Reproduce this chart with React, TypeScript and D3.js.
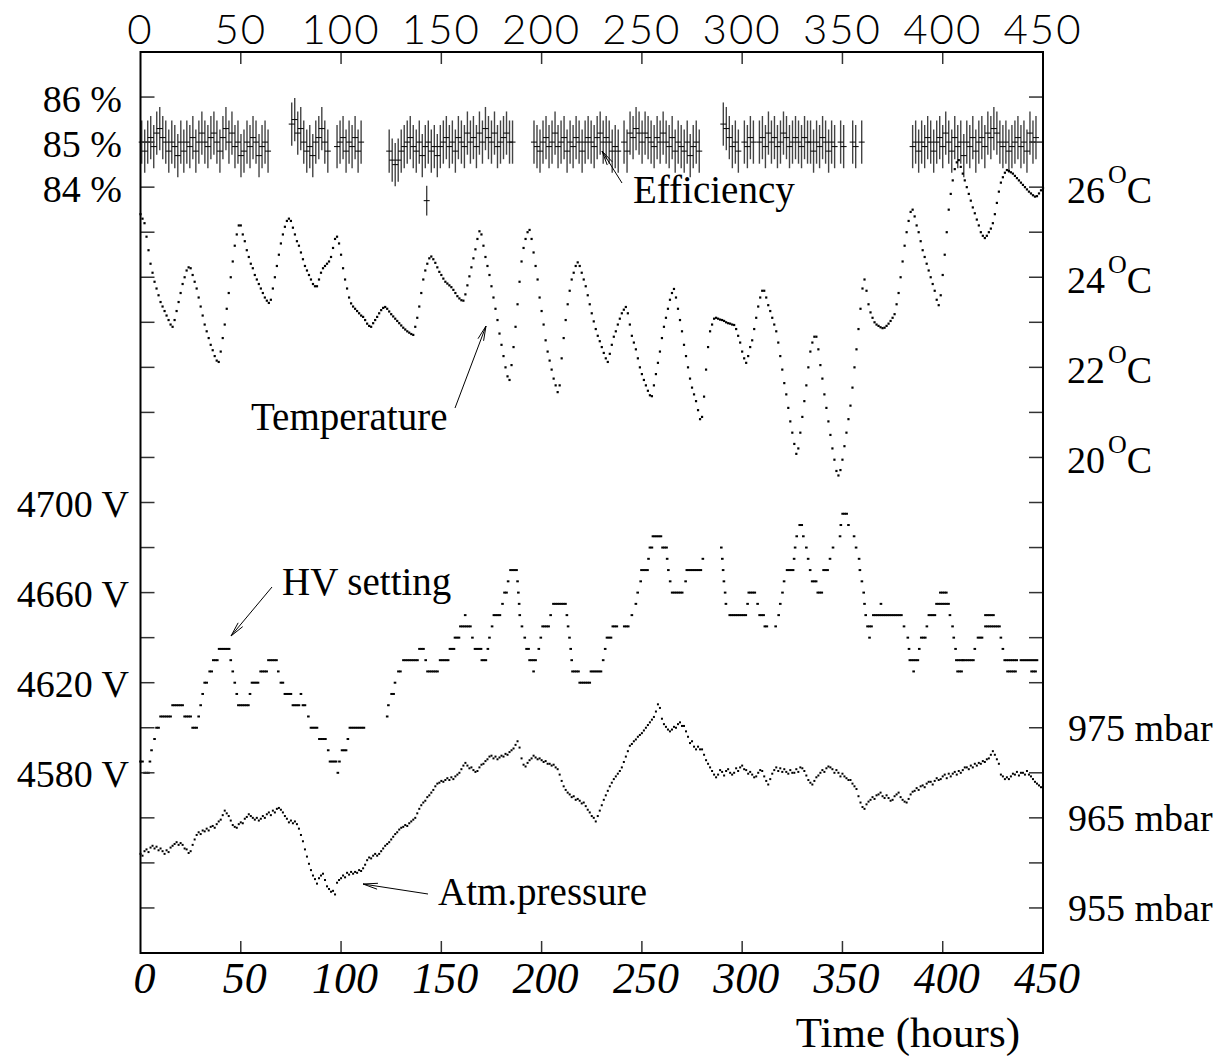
import React from 'react';
import * as d3 from 'd3';

// ---------- axis ticks / labels ----------
const timeTicks = [0, 50, 100, 150, 200, 250, 300, 350, 400, 450];
const effTicks = [86, 85, 84];
const tempTicks = [26, 24, 22, 20];
const hvTicks = [4700, 4660, 4620, 4580];
const pressTicks = [975, 965, 955];

// ---------- temperature (deg C), hourly from t = 0 h ----------
const temperature = [
  25.4, 25.3, 25.2, 24.9, 24.6, 24.3, 24.1, 23.9, 23.75, 23.6,
  23.45, 23.35, 23.25, 23.15, 23.05, 22.95, 22.9, 23.05, 23.25, 23.45,
  23.65, 23.85, 24.0, 24.15, 24.22, 24.2, 24.05, 23.9, 23.75, 23.55,
  23.35, 23.15, 22.95, 22.8, 22.65, 22.5, 22.38, 22.25, 22.15, 22.12,
  22.35, 22.65, 22.95, 23.3, 23.65, 24.0, 24.35, 24.7, 24.95, 25.15,
  25.15, 24.95, 24.8, 24.6, 24.45, 24.3, 24.2, 24.05, 23.95, 23.85,
  23.75, 23.65, 23.55, 23.48, 23.43, 23.5, 23.75, 24.0, 24.25, 24.5,
  24.75, 24.95, 25.12, 25.25, 25.3, 25.25, 25.1, 24.95, 24.8, 24.7,
  24.55, 24.4, 24.25, 24.15, 24.05, 23.95, 23.85, 23.8, 23.8, 23.95,
  24.1, 24.2, 24.25, 24.3, 24.35, 24.45, 24.65, 24.85, 24.9, 24.75,
  24.5, 24.2, 23.95, 23.75, 23.55, 23.42, 23.35, 23.3, 23.25, 23.2,
  23.15, 23.12, 23.05, 22.97, 22.92, 22.9, 22.98, 23.05, 23.12, 23.2,
  23.27, 23.32, 23.34, 23.3, 23.24, 23.18, 23.13, 23.08, 23.03, 22.98,
  22.93, 22.88, 22.84, 22.8, 22.77, 22.74, 22.72, 22.9, 23.1, 23.35,
  23.65, 23.95, 24.15, 24.3, 24.42, 24.46, 24.4, 24.32, 24.22, 24.12,
  24.05, 23.97, 23.9, 23.86, 23.82, 23.78, 23.72, 23.65, 23.58, 23.53,
  23.49, 23.48, 23.62, 23.82, 24.02, 24.22, 24.42, 24.62, 24.85, 25.02,
  24.95, 24.7, 24.45, 24.25, 24.05, 23.8, 23.55, 23.3, 23.05, 22.75,
  22.5, 22.25, 22.0, 21.8, 21.72, 22.05, 22.45, 22.9, 23.4, 23.9,
  24.35, 24.65, 24.85, 25.0, 25.05, 24.85, 24.55, 24.25, 23.95, 23.55,
  23.25, 22.95, 22.6, 22.35, 22.15, 21.95, 21.75, 21.6, 21.45, 21.6,
  22.2, 22.65, 23.05, 23.4, 23.7, 23.95, 24.1, 24.25, 24.33, 24.25,
  24.1, 23.95, 23.8, 23.6, 23.4, 23.2, 23.02, 22.85, 22.7, 22.58,
  22.45, 22.32, 22.2, 22.12, 22.3, 22.5, 22.68, 22.8, 22.95, 23.08,
  23.2, 23.28, 23.34, 23.2, 22.95, 22.7, 22.55, 22.4, 22.2, 22.0,
  21.85, 21.72, 21.6, 21.48, 21.38, 21.36, 21.6, 21.85, 22.1, 22.35,
  22.65, 22.9, 23.1, 23.3, 23.5, 23.65, 23.74, 23.55, 23.3, 23.05,
  22.8, 22.5, 22.25, 22.0, 21.75, 21.55, 21.4, 21.25, 21.05, 20.85,
  20.9, 21.35, 21.95, 22.45, 22.8, 22.95, 23.08, 23.1, 23.08, 23.06,
  23.05, 23.03, 23.0, 22.98, 22.97, 22.95, 22.94, 22.85, 22.7, 22.55,
  22.35, 22.2, 22.1, 22.25, 22.45, 22.6, 22.85, 23.1, 23.35, 23.55,
  23.7, 23.7, 23.55, 23.38, 23.25, 23.1, 22.95, 22.8, 22.55, 22.25,
  21.95, 21.65, 21.4, 21.1, 20.8, 20.55, 20.3, 20.08, 20.2, 20.55,
  20.9, 21.25, 21.6, 22.0, 22.35, 22.55, 22.68, 22.68, 22.4, 22.05,
  21.75, 21.4, 21.1, 20.8, 20.5, 20.2, 19.95, 19.7, 19.6, 19.72,
  19.95, 20.25, 20.55, 20.85, 21.15, 21.55, 22.0, 22.4, 22.85, 23.3,
  23.75, 23.95, 23.7, 23.4, 23.22, 23.1, 23.0, 22.95, 22.92, 22.89,
  22.87, 22.88, 22.92, 22.97, 23.03, 23.1, 23.18, 23.4, 23.65, 24.0,
  24.35, 24.7, 25.0, 25.25, 25.45, 25.5, 25.35, 25.15, 25.0, 24.8,
  24.6, 24.45, 24.3, 24.15, 24.0, 23.85, 23.7, 23.5, 23.38, 23.6,
  24.05, 24.5, 25.0, 25.5, 25.85, 26.15, 26.4, 26.55, 26.6, 26.45,
  26.3, 26.15, 26.0, 25.85, 25.7, 25.55, 25.42, 25.28, 25.15, 25.0,
  24.92, 24.87, 24.92, 25.0, 25.08, 25.2, 25.4, 25.65, 25.9, 26.1,
  26.22, 26.32, 26.38, 26.36, 26.33, 26.3, 26.25, 26.2, 26.15, 26.1,
  26.05, 26.0, 25.95, 25.9, 25.86, 25.82, 25.79, 25.8, 25.86, 25.93,
  25.98,
];

// ---------- atmospheric pressure (mbar), hourly from t = 0 h ----------
const pressure = [
  961.0, 960.8, 961.3, 961.5, 961.2, 961.7, 961.9, 961.6, 961.8, 961.4,
  961.6, 961.3, 961.0, 961.4, 961.2, 961.7, 961.9, 962.1, 962.3, 962.0,
  962.2, 962.0, 961.6, 961.5, 961.1, 961.3, 962.0, 962.6, 963.1, 963.4,
  963.2, 963.6, 963.5, 963.8, 963.6, 964.0, 964.1, 963.9, 964.3, 964.6,
  964.8, 965.3, 965.8, 965.5, 965.2, 964.7, 964.2, 964.0, 963.9, 964.3,
  964.5, 964.4, 964.9, 965.1, 965.4, 965.2, 965.0, 964.8, 965.0, 964.7,
  964.9, 965.2, 965.0, 965.4, 965.6, 965.3, 965.8, 965.6, 966.0, 966.1,
  965.9, 965.6, 965.2, 964.9, 964.5, 964.7, 964.4, 964.6, 964.3, 963.8,
  963.1, 962.4, 961.5, 960.7, 959.9, 959.2, 958.6, 958.2, 957.7, 958.3,
  958.6, 958.8, 958.1, 957.4, 957.1, 956.8, 956.9, 956.5, 957.8, 958.1,
  958.3, 958.6, 958.4, 958.9, 958.7, 959.0, 958.8, 959.0, 958.9, 959.2,
  959.1, 959.4, 959.8, 960.3, 960.6, 960.5, 960.8, 961.0, 960.8, 961.0,
  961.3, 961.6, 961.9, 962.1, 962.3, 962.6, 962.9, 963.2, 963.4, 963.7,
  963.9, 964.0, 964.2, 964.1, 964.4, 964.6, 964.8, 965.0, 965.5, 966.0,
  966.4, 966.7, 966.9, 967.3, 967.5, 967.8, 968.1, 968.5, 968.8, 968.9,
  969.1, 969.0, 969.2, 969.4, 969.2, 969.5, 969.3, 969.6, 969.8, 970.0,
  970.4, 970.8, 971.1, 970.8, 970.5, 970.6, 970.3, 970.1, 970.2, 970.6,
  970.9, 971.0, 971.3, 971.5, 971.8, 971.9, 971.6, 971.8, 971.5, 971.7,
  971.9, 971.8, 972.1, 972.0, 972.3, 972.5, 972.7, 973.1, 973.5, 972.8,
  971.6, 970.9, 970.7, 971.1, 971.4, 971.6, 971.9, 971.7, 971.5, 971.6,
  971.4, 971.2, 971.3, 971.0, 971.0, 970.8, 970.9, 970.6, 970.4, 969.8,
  969.1, 968.5, 968.1, 967.8, 967.6, 967.3, 967.4, 967.0, 967.1, 966.9,
  966.6, 966.7, 966.3, 965.9, 965.6, 965.2, 965.0, 964.6, 965.2, 965.8,
  966.4, 967.0, 967.5, 968.0, 968.5, 968.9, 969.3, 969.6, 969.9, 970.2,
  970.6, 971.2, 971.8, 972.4, 973.0, 973.2, 973.5, 973.7, 974.0, 974.2,
  974.4, 974.7, 975.0, 975.3, 975.6, 975.9, 976.2, 976.8, 977.6, 977.2,
  976.0, 975.4, 975.1, 974.8, 974.6, 974.8, 975.1, 975.0, 975.4, 975.6,
  975.2, 975.2, 974.6, 974.0, 973.3, 973.5, 972.9, 972.6, 972.9, 972.6,
  972.6, 972.0, 971.4, 971.0, 970.6, 970.2, 969.8, 969.5, 969.8, 970.3,
  970.1, 969.7, 970.2, 970.4, 970.0, 969.8, 970.0, 970.5, 970.2, 970.6,
  970.8, 970.4, 970.3, 969.9, 970.1, 969.8, 969.5, 969.6, 970.0, 970.3,
  970.2, 969.6, 969.1, 968.7, 969.3, 969.9, 970.3, 970.6, 970.2, 970.5,
  970.1, 970.4, 970.1, 969.9, 970.3, 970.0, 970.0, 970.4, 970.1, 970.6,
  970.5, 970.2, 969.7, 969.2, 968.9, 968.7, 969.1, 969.5, 969.7, 970.0,
  970.3, 970.1, 970.5, 970.7, 970.6, 970.4, 970.0, 970.3, 970.0, 969.6,
  969.9, 969.6, 969.4, 969.2, 969.2, 968.8, 968.5, 968.2, 967.4, 966.7,
  966.2, 966.0, 966.5, 966.8, 967.0, 967.3, 967.1, 967.5, 967.6, 967.8,
  967.4, 967.2, 967.5, 967.2, 966.9, 967.0, 967.4, 967.6, 967.8, 967.3,
  967.0, 966.8, 966.7, 967.1, 967.6, 967.9, 968.0, 968.3, 968.1, 968.5,
  968.6, 968.4, 968.8, 969.0, 969.0, 968.7, 969.1, 969.4, 969.2, 969.3,
  969.6, 969.8, 969.4, 969.9, 969.6, 969.9, 970.1, 969.8, 970.2, 970.0,
  970.3, 970.6, 970.6, 970.4, 970.8, 970.6, 971.0, 970.8, 971.1, 971.0,
  971.3, 971.2, 971.5, 971.6, 972.0, 972.4, 972.0, 971.5, 971.0, 969.8,
  969.6, 969.3, 969.5, 969.3, 969.6, 969.9, 969.8, 970.1, 969.7, 970.0,
  970.0, 969.8, 970.2, 969.8, 969.6, 969.3, 969.0, 968.8, 968.6, 968.4,
  968.6,
];

// ---------- HV setting (V): steps [from h, to h, volts], one reading per hour ----------
const hvSteps: [number, number, number][] = [
  [0, 1, 4585], [2, 4, 4580], [4.7, 4.7, 4585], [5.5, 6, 4590], [7, 7, 4595], [8, 9, 4600],
  [10, 15, 4605], [16, 21, 4610], [22, 25, 4605], [26, 28, 4600], [29, 29, 4605], [30, 30, 4610],
  [31, 31, 4615], [32, 33, 4620], [34.5, 35.5, 4625], [36.3, 38.3, 4630], [39.2, 44.6, 4635],
  [45, 45, 4630], [46, 46, 4625], [47, 47, 4620], [48, 48, 4615], [48.8, 53.8, 4610],
  [54.6, 54.6, 4615], [55.6, 58.8, 4620], [59.9, 62.9, 4625], [63.8, 67.9, 4630], [68.7, 68.7, 4625],
  [70, 71.2, 4620], [72, 75.4, 4615], [76, 79, 4610], [80, 80, 4615], [81, 82.8, 4610],
  [83.7, 83.7, 4605], [85, 88.7, 4600], [89.2, 92.6, 4595], [93.6, 93.6, 4590], [94.5, 96.5, 4585],
  [97.5, 97.5, 4585], [98.4, 98.4, 4580], [99.2, 100, 4585], [100.5, 102.8, 4590], [103.4, 103.4, 4595],
  [104.4, 112, 4600],
  [123, 123, 4605], [123.6, 123.6, 4610], [125.2, 126.2, 4615], [126.9, 126.9, 4620], [128.6, 130.2, 4625],
  [131.1, 138.1, 4630], [139.1, 141.1, 4635], [142.2, 142.2, 4630], [143.1, 148.1, 4625], [149.4, 153.4, 4630],
  [154.3, 156.3, 4635], [156.8, 158.8, 4640], [159.5, 164.5, 4645], [161.9, 161.9, 4650], [165.5, 165.5, 4640],
  [166.8, 169.8, 4635], [170.2, 172.2, 4630], [173.2, 173.2, 4635], [174, 174, 4640], [175.3, 175.3, 4645],
  [176.2, 179.2, 4650], [180.5, 180.5, 4655], [181.5, 182.5, 4660], [183.3, 183.3, 4665], [184.5, 187.5, 4670],
  [188, 188, 4665], [188.4, 188.4, 4660], [188.8, 188.8, 4655], [189.1, 189.1, 4650], [190.2, 190.2, 4645],
  [191.6, 191.6, 4640], [192.5, 193.5, 4635], [194, 197.9, 4630], [196, 196, 4625], [198.6, 198.6, 4635],
  [199.6, 199.6, 4640], [200.5, 203.5, 4645], [204.5, 204.5, 4650], [205.9, 211.9, 4655], [212.6, 212.6, 4650],
  [213.2, 213.2, 4645], [213.9, 213.9, 4640], [214.5, 214.5, 4635], [215, 215, 4630], [215.4, 218.4, 4625],
  [219, 224, 4620], [224.6, 229.6, 4625], [230.7, 230.7, 4630], [231.7, 231.7, 4635], [232.6, 234.6, 4640],
  [235.5, 237.5, 4645], [241.2, 243.2, 4645], [245, 245, 4650], [247, 247, 4655], [247.9, 247.9, 4660],
  [249.4, 249.4, 4665], [249.8, 252.8, 4670], [253.3, 253.3, 4675], [254, 255, 4680], [255.5, 259.5, 4685],
  [260.3, 262.3, 4680], [262.6, 262.6, 4675], [263.2, 263.2, 4670], [264.1, 264.1, 4665], [265.1, 270.1, 4660],
  [271.8, 271.8, 4665], [272.4, 279.4, 4670], [280.4, 280.4, 4675],
  [289.6, 289.6, 4680], [290.1, 290.1, 4675], [290.5, 290.5, 4670], [290.9, 290.9, 4665], [291.5, 291.5, 4660],
  [291.9, 291.9, 4655], [293.8, 301.8, 4650], [302.7, 302.7, 4655], [303.3, 306.3, 4660], [307.7, 307.7, 4655],
  [308.7, 310.7, 4650], [311.3, 312.3, 4645], [316.7, 316.7, 4645], [318.2, 318.2, 4650], [319, 319, 4655],
  [320.1, 320.1, 4660], [320.9, 320.9, 4665], [322.4, 325.4, 4670], [325.9, 325.9, 4675], [326.4, 326.4, 4680],
  [327.2, 327.2, 4685], [328.7, 329.7, 4690], [330.5, 330.5, 4685], [332, 332, 4680], [332.9, 332.9, 4675],
  [333.9, 333.9, 4670], [334.9, 336.9, 4665], [337.7, 339.7, 4660], [340.6, 342.6, 4670], [343.8, 343.8, 4675],
  [345.3, 345.3, 4680], [348.8, 348.8, 4685], [349.2, 349.2, 4690], [350.1, 352.1, 4695], [353, 353, 4690],
  [355.8, 355.8, 4685], [356.8, 356.8, 4680], [358.3, 358.3, 4675], [358.7, 358.7, 4670], [359.7, 359.7, 4665],
  [360.6, 360.6, 4660], [361, 361, 4655], [361.6, 361.6, 4650], [362.5, 364.5, 4645], [363.5, 363.5, 4640],
  [365.4, 379.4, 4650], [369.2, 369.2, 4655], [380.7, 380.7, 4645], [382.6, 382.6, 4640], [383.2, 383.2, 4635],
  [383.6, 387.6, 4630], [385.5, 385.5, 4625], [388.3, 388.3, 4635], [389.3, 391.3, 4640], [392.1, 392.1, 4645],
  [393.1, 396.1, 4650], [396.9, 402.9, 4655], [398.8, 401.8, 4660], [403.6, 403.6, 4650], [404.9, 404.9, 4645],
  [405.5, 405.5, 4640], [406.4, 406.4, 4635], [406.8, 409.8, 4630], [407.4, 409.4, 4625], [410.3, 415.3, 4630],
  [416, 416, 4635], [417.6, 419.6, 4640], [421.3, 428.3, 4645], [421.3, 425.3, 4650], [429, 429, 4640],
  [430, 430, 4635], [430.9, 436.9, 4630], [432.3, 436.3, 4625], [439, 447, 4630], [444.3, 446.3, 4625],
];

// ---------- efficiency (%): run start times (h), readings every 1.5 h, null = missing ----------
const effStep = 1.5;
const effError = 0.48;
const effStarts = [0.6, 75.4, 98, 124, 196.2, 241.1, 290.6, 385];
const effValues: (number | null)[][] = [
  [85.0, 84.8, 85.0, 85.1, 84.9, 85.2, 85.3, 85.1, 85.0, 84.8, 85.0, 84.9, 84.7, 85.0, 84.8, 85.0, 84.9, 85.1, 84.8, 85.0, 85.2, 85.0, 84.9, 85.1, 85.2, 85.0, 84.8, 85.1, 85.3, 85.0, 85.2, 84.9, 85.0, 84.7, 84.8, 85.0, 84.9, 85.1, 85.0, 84.7, 84.9, 85.0, 84.8],
  [85.4, 85.5, 85.2, 85.3, 85.0, 84.8, 84.9, 84.7, 85.0, 85.1, 85.3, 85.0, 84.8],
  [84.9, 85.0, 85.1, 84.8, 85.0, 84.9, 85.1, 84.8, 85.0],
  [84.8, 84.6, 84.5, 84.6, 84.8, 84.9, 85.0, 85.1, 84.9, 84.8, 85.0, 84.7, 84.9, 85.0, 84.8, 84.9, 84.7, 84.9, 85.0, 85.1, 84.9, 85.0, 84.8, 85.1, 85.0, 84.9, 85.2, 85.0, 85.1, 84.9, 85.2, 85.0, 85.3, 85.1, 85.0, 85.2, 84.9, 85.0, 85.1, 85.2, 85.0, 85.0],
  [85.0, 84.9, 84.8, 85.0, 85.1, 84.9, 85.0, 85.2, 84.9, 85.0, 85.1, 84.8, 85.0, 84.9, 85.1, 85.0, 84.8, 85.0, 85.1, 85.0, 84.9, 85.1, 85.2, 85.0, 85.1, 85.0, 84.8, 84.9, 84.8],
  [85.0, 84.8, 85.2, 85.1, 85.3, 85.2, 85.0, 85.2, 85.1, 85.0, 84.9, 85.1, 85.0, 85.2, 85.0, 84.9, 85.1, 84.8, 85.0, 84.9, 84.8, 85.0, 84.7, 84.9, 85.0, 84.8],
  [85.4, 85.3, 85.1, 84.9, 85.0, 84.8, null, 85.0, 84.9, 85.1, 85.0, null, 85.0, 85.1, 84.9, 85.2, 85.0, 85.1, 84.9, 85.0, 85.2, 85.1, 84.9, 85.0, 85.1, 85.0, 84.9, 85.1, 85.0, 85.0, 84.8, 85.0, 84.9, 85.1, 85.0, 84.8, 85.0, 84.9, null, 85.0, 84.9, null, null, 85.0, 84.9, null, 85.0],
  [84.9, 85.0, 84.8, 85.0, 84.9, 85.1, 85.0, 84.8, 85.0, 85.1, 84.9, 85.2, 85.0, 84.8, 85.1, 84.9, 85.0, 84.7, 85.0, 84.9, 85.1, 84.8, 85.0, 85.1, 84.9, 85.2, 85.1, 85.3, 85.2, 85.0, 84.9, 85.0, 84.8, 84.9, 85.0, 85.1, 84.9, 85.0, 84.8, 85.2, 85.0, 85.1],
];
// isolated low reading
const effOutlierTime = 142.7;
const effOutlierValue = 83.7;
const effOutlierError = 0.33;

// ---------- annotations ----------
const annotations = [
  { text: 'Efficiency', x: 633, y: 203, from: [622, 183], to: [602, 151] },
  { text: 'Temperature', x: 251, y: 430, from: [455, 408], to: [486, 326] },
  { text: 'HV setting', x: 282, y: 595, from: [272, 587], to: [231, 636] },
  { text: 'Atm.pressure', x: 438, y: 905, from: [428, 894], to: [363, 884] },
];

const SERIF = "'Liberation Serif', 'Times New Roman', Times, serif";
const SANS = "Lato, 'Open Sans', 'DejaVu Sans', sans-serif";

export default function App() {
  const left = 140.5, right = 1043, top = 52, bottom = 953;
  const x = d3.scaleLinear().domain([0, 450]).range([left, right]);
  const frame = d3.scaleLinear().domain([0, 20]).range([bottom, top]);
  const yEff = d3.scaleLinear().domain([84, 86]).range([frame(17), frame(19)]);
  const yTemp = d3.scaleLinear().domain([20, 26]).range([frame(11), frame(17)]);
  const yHV = d3.scaleLinear().domain([4580, 4700]).range([frame(4), frame(10)]);
  const yP = d3.scaleLinear().domain([955, 975]).range([frame(1), frame(5)]);

  const frameTicks = d3.range(1, 20);
  const innerTimeTicks = timeTicks.filter((t) => t > 0 && t < 450);

  const hvDots: { t: number; v: number }[] = [];
  hvSteps.forEach(([a, b, v]) => {
    for (let t = a; t <= b + 1e-6; t += 1) hvDots.push({ t, v });
  });

  const effPts: { t: number; v: number; e: number }[] = [];
  effStarts.forEach((s, i) => {
    effValues[i].forEach((v, j) => {
      if (v !== null) effPts.push({ t: s + j * effStep, v, e: effError });
    });
  });
  effPts.push({ t: effOutlierTime, v: effOutlierValue, e: effOutlierError });

  const arrowHead = (from: number[], to: number[]) => {
    const a = Math.atan2(to[1] - from[1], to[0] - from[0]);
    const L = 15, phi = 0.2;
    const p1 = [to[0] - L * Math.cos(a - phi), to[1] - L * Math.sin(a - phi)];
    const p2 = [to[0] - L * Math.cos(a + phi), to[1] - L * Math.sin(a + phi)];
    return `M${p1[0]},${p1[1]} L${to[0]},${to[1]} L${p2[0]},${p2[1]}`;
  };

  return (
    <svg
      width={1225}
      height={1061}
      style={{ position: 'absolute', left: 0, top: 0, background: '#fff' }}
    >
      <rect x={0} y={0} width={1225} height={1061} fill="#fff" />

      {/* efficiency error bars */}
      <g>
        {effPts.map((p, i) => (
          <line key={'ev' + i} x1={x(p.t)} x2={x(p.t)} y1={yEff(p.v + p.e)} y2={yEff(p.v - p.e)} stroke="#444" strokeWidth={1.4} />
        ))}
        {effPts.map((p, i) => (
          <line key={'eh' + i} x1={x(p.t) - 3} x2={x(p.t) + 3} y1={yEff(p.v)} y2={yEff(p.v)} stroke="#000" strokeWidth={1} />
        ))}
      </g>

      {/* temperature */}
      <g fill="#000">
        {temperature.map((v, i) => (
          <rect key={'t' + i} x={x(i) - 1.1} y={yTemp(v) - 1.1} width={2.2} height={2.2} />
        ))}
      </g>

      {/* HV */}
      <g fill="#000">
        {hvDots.map((d, i) => (
          <rect key={'h' + i} x={x(d.t) - 1.3} y={yHV(d.v) - 1} width={2.6} height={2} />
        ))}
      </g>

      {/* pressure */}
      <g fill="#000">
        {pressure.map((v, i) => (
          <rect key={'p' + i} x={x(i) - 1} y={yP(v) - 1} width={2} height={2} />
        ))}
      </g>

      {/* frame ticks */}
      <g stroke="#333" strokeWidth={1.5}>
        {frameTicks.map((k) => (
          <g key={'ft' + k}>
            <line x1={left} x2={left + 14} y1={frame(k)} y2={frame(k)} />
            <line x1={right} x2={right - 14} y1={frame(k)} y2={frame(k)} />
          </g>
        ))}
        {innerTimeTicks.map((t) => (
          <g key={'tt' + t}>
            <line x1={x(t)} x2={x(t)} y1={top} y2={top + 12} />
            <line x1={x(t)} x2={x(t)} y1={bottom} y2={bottom - 12} />
          </g>
        ))}
      </g>
      <rect x={left} y={top} width={right - left} height={bottom - top} fill="none" stroke="#000" strokeWidth={2} />

      {/* top axis labels */}
      <g fontFamily={SANS} fontWeight={300} fontSize={42} textAnchor="middle" fill="#000">
        {timeTicks.map((t) => (
          <text key={'tl' + t} x={x(t)} y={43.5} letterSpacing={2}>{t}</text>
        ))}
      </g>

      {/* bottom axis labels */}
      <g fontFamily={SERIF} fontStyle="italic" fontSize={44} textAnchor="middle" fill="#000">
        {timeTicks.map((t) => (
          <text key={'bl' + t} x={x(t) + 4} y={993}>{t}</text>
        ))}
      </g>
      <text x={1020} y={1047} fontFamily={SERIF} fontSize={43} textAnchor="end">Time (hours)</text>

      {/* left labels */}
      <g fontFamily={SERIF} fontSize={38} textAnchor="end" fill="#000">
        {effTicks.map((v) => (
          <text key={'el' + v} x={122} y={yEff(v) + 15}>{v} %</text>
        ))}
        {hvTicks.map((v) => (
          <text key={'hl' + v} x={129} y={yHV(v) + 14}>{v} V</text>
        ))}
      </g>

      {/* right labels */}
      <g fontFamily={SERIF} fontSize={38} fill="#000">
        {tempTicks.map((v) => (
          <text key={'rl' + v} x={1067} y={yTemp(v) + 16}>
            {v}
            <tspan fontSize={26} dx={3} dy={-20}>O</tspan>
            <tspan dy={20}>C</tspan>
          </text>
        ))}
        {pressTicks.map((v) => (
          <text key={'pl' + v} x={1068} y={yP(v) + 13}>{v} mbar</text>
        ))}
      </g>

      {/* annotations */}
      <g>
        {annotations.map((a) => (
          <g key={a.text}>
            <text x={a.x} y={a.y} fontFamily={SERIF} fontSize={39} fill="#000">{a.text}</text>
            <line x1={a.from[0]} y1={a.from[1]} x2={a.to[0]} y2={a.to[1]} stroke="#000" strokeWidth={1} />
            <path d={arrowHead(a.from, a.to)} fill="none" stroke="#000" strokeWidth={1} />
          </g>
        ))}
      </g>
    </svg>
  );
}
